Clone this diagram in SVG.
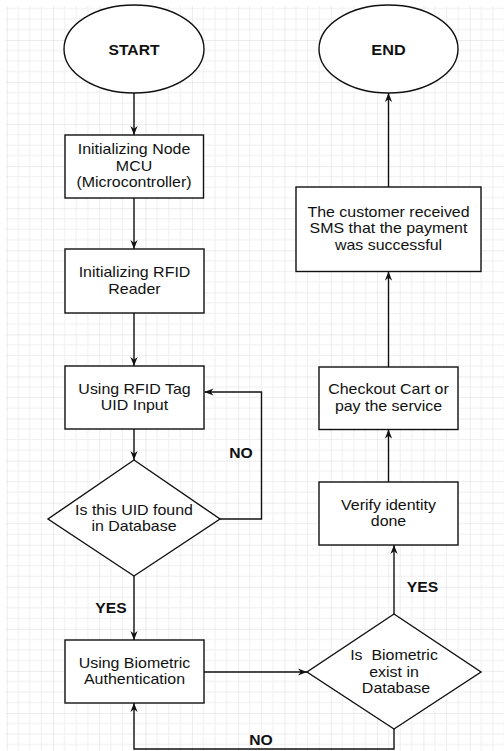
<svg xmlns="http://www.w3.org/2000/svg" width="504" height="751" viewBox="0 0 504 751">
<style>
.shape{fill:#ffffff;stroke:#111111;stroke-width:1.4}
.edge{fill:none;stroke:#111111;stroke-width:1.4}
.t{font-family:"Liberation Sans",Arial,sans-serif;font-size:14px;fill:#111111;text-anchor:middle}
.b{font-weight:bold}
</style>
<defs>
<pattern id="grid" patternUnits="userSpaceOnUse" x="6.7" y="-2.06" width="46.3" height="42.06">
<path d="M11.58,0V42.06M23.15,0V42.06M34.73,0V42.06M0,10.52H46.3M0,21.03H46.3M0,31.55H46.3" fill="none" stroke="#efefef" stroke-width="1"/>
<path d="M0,0V42.06M0,0H46.3" fill="none" stroke="#dadada" stroke-width="1"/>
</pattern>
<marker id="arr" viewBox="0 0 10 8" refX="10" refY="4" markerWidth="9" markerHeight="7.5" orient="auto" markerUnits="userSpaceOnUse">
<path d="M0,0L10,4L0,8L3,4Z" fill="#111111"/>
</marker>
</defs>
<rect width="504" height="751" fill="#ffffff"/>
<rect x="6" y="6" width="498" height="745" fill="url(#grid)"/>

<g id="connectors">
<path class="edge" d="M134,93V135" marker-end="url(#arr)"/>
<path class="edge" d="M134,198V249" marker-end="url(#arr)"/>
<path class="edge" d="M134,313V366" marker-end="url(#arr)"/>
<path class="edge" d="M134,429V460" marker-end="url(#arr)"/>
<path class="edge" d="M220,519H261.5V392H204.5" marker-end="url(#arr)"/>
<path class="edge" d="M134,576V640" marker-end="url(#arr)"/>
<path class="edge" d="M204,672H307" marker-end="url(#arr)"/>
<path class="edge" d="M394,729V749H134V703" marker-end="url(#arr)"/>
<path class="edge" d="M394,614V545" marker-end="url(#arr)"/>
<path class="edge" d="M388.5,482V429.5" marker-end="url(#arr)"/>
<path class="edge" d="M388.5,367V271.5" marker-end="url(#arr)"/>
<path class="edge" d="M388.5,187V93" marker-end="url(#arr)"/>
<text class="t b" transform="translate(241,458) scale(1.12,1)">NO</text>
<text class="t b" transform="translate(111,613) scale(1.12,1)">YES</text>
<text class="t b" transform="translate(422.5,592) scale(1.12,1)">YES</text>
<text class="t b" transform="translate(261,745) scale(1.12,1)">NO</text>
</g>

<g id="start">
<ellipse class="shape" cx="134" cy="49" rx="70" ry="44"/>
<text class="t b" transform="translate(134,55) scale(1.12,1)">START</text>
</g>
<g id="init-mcu">
<rect class="shape" x="65" y="135" width="138.5" height="63"/>
<text class="t" transform="translate(134,154) scale(1.14,1)">Initializing Node</text>
<text class="t" transform="translate(134,170.5) scale(1.14,1)">MCU</text>
<text class="t" transform="translate(134,187) scale(1.14,1)">(Microcontroller)</text>
</g>
<g id="init-rfid">
<rect class="shape" x="65" y="249" width="139" height="64"/>
<text class="t" transform="translate(134.5,277) scale(1.14,1)">Initializing RFID</text>
<text class="t" transform="translate(134.5,293.5) scale(1.14,1)">Reader</text>
</g>
<g id="rfid-input">
<rect class="shape" x="65" y="366" width="139" height="63"/>
<text class="t" transform="translate(134.5,393.5) scale(1.14,1)">Using RFID Tag</text>
<text class="t" transform="translate(134.5,410) scale(1.14,1)">UID Input</text>
</g>
<g id="uid-check">
<polygon class="shape" points="134,460 220,519 134,576 48,519"/>
<text class="t" transform="translate(134,514.5) scale(1.14,1)">Is this UID found</text>
<text class="t" transform="translate(134,531) scale(1.14,1)">in Database</text>
</g>
<g id="biometric-auth">
<rect class="shape" x="65" y="640" width="139" height="63"/>
<text class="t" transform="translate(134.5,667.5) scale(1.14,1)">Using Biometric</text>
<text class="t" transform="translate(134.5,684) scale(1.14,1)">Authentication</text>
</g>
<g id="biometric-check">
<polygon class="shape" points="394,614 481,672 394,729 307,672"/>
<text class="t" xml:space="preserve" transform="translate(394,660) scale(1.14,1)">Is  Biometric</text>
<text class="t" transform="translate(394,676.5) scale(1.14,1)">exist in</text>
<text class="t" transform="translate(396,693) scale(1.14,1)">Database</text>
</g>
<g id="verify">
<rect class="shape" x="319" y="482" width="139" height="63"/>
<text class="t" transform="translate(388.5,509.5) scale(1.14,1)">Verify identity</text>
<text class="t" transform="translate(388.5,526) scale(1.14,1)">done</text>
</g>
<g id="checkout">
<rect class="shape" x="319" y="367" width="139" height="62.5"/>
<text class="t" transform="translate(388.5,394) scale(1.14,1)">Checkout Cart or</text>
<text class="t" transform="translate(388.5,410.5) scale(1.14,1)">pay the service</text>
</g>
<g id="sms">
<rect class="shape" x="296" y="187" width="185" height="84.5"/>
<text class="t" transform="translate(388.5,216.5) scale(1.14,1)">The customer received</text>
<text class="t" transform="translate(388.5,233) scale(1.14,1)">SMS that the payment</text>
<text class="t" transform="translate(388.5,249.5) scale(1.14,1)">was successful</text>
</g>
<g id="end">
<ellipse class="shape" cx="388.5" cy="49" rx="69.5" ry="44"/>
<text class="t b" transform="translate(388.5,55) scale(1.16,1)">END</text>
</g>
</svg>
